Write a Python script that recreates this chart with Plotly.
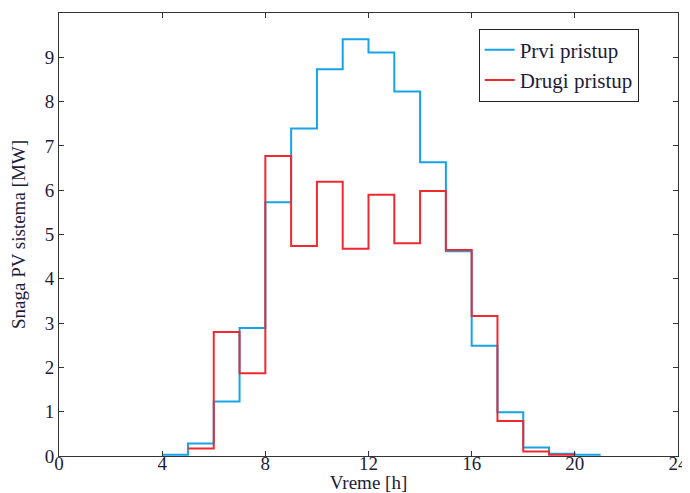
import plotly.graph_objects as go

# Hour at which each step starts
hours_prvi = [4, 5, 6, 7, 8, 9, 10, 11, 12, 13, 14, 15, 16, 17, 18, 19, 20]
prvi = [0.03, 0.28, 1.23, 2.89, 5.73, 7.39, 8.73, 9.41, 9.11, 8.23, 6.63, 4.62, 2.49, 0.99, 0.19, 0.05, 0.03]

hours_drugi = [5, 6, 7, 8, 9, 10, 11, 12, 13, 14, 15, 16, 17, 18, 19]
drugi = [0.17, 2.80, 1.87, 6.77, 4.74, 6.19, 4.68, 5.90, 4.80, 5.98, 4.65, 3.16, 0.79, 0.10, 0.03]

x_ticks = [0, 4, 8, 12, 16, 20, 24]
y_ticks = [0, 1, 2, 3, 4, 5, 6, 7, 8, 9]


def stairs(h, v):
    # close the final step one hour later
    return h + [h[-1] + 1], v + [v[-1]]


xp, yp = stairs(hours_prvi, prvi)
xd, yd = stairs(hours_drugi, drugi)

fig = go.Figure()
fig.add_trace(go.Scatter(x=xp, y=yp, mode="lines", line_shape="hv",
                         line=dict(color="#16a4e6", width=2), name="Prvi pristup"))
fig.add_trace(go.Scatter(x=xd, y=yd, mode="lines", line_shape="hv",
                         line=dict(color="#ee2a30", width=2), name="Drugi pristup"))

font_family = "Liberation Serif, Times New Roman, serif"
txt_color = "#1c1c3a"
axis_common = dict(showline=True, linecolor="#333333", linewidth=1, mirror="allticks",
                   ticks="inside", ticklen=5, tickcolor="#333333", showgrid=False,
                   zeroline=False, automargin=False,
                   tickfont=dict(family=font_family, size=19, color=txt_color))

fig.update_xaxes(range=[0, 24], tickvals=x_ticks, ticktext=[str(t) for t in x_ticks],
                 ticklabelstandoff=-10,
                 title=dict(text="Vreme [h]", font=dict(family=font_family, size=19, color=txt_color),
                            standoff=12),
                 **axis_common)
fig.update_yaxes(range=[0, 10], tickvals=y_ticks, ticktext=[str(t) for t in y_ticks],
                 title=dict(text="Snaga PV sistema [MW]", font=dict(family=font_family, size=19, color=txt_color),
                            standoff=14),
                 **axis_common)

# the page body adds an 8 px offset, so the figure is sized to fit the window
fig.update_layout(
    width=682, height=485,
    margin=dict(l=51, r=12, t=5, b=37),
    plot_bgcolor="white", paper_bgcolor="white",
    font=dict(family=font_family, size=19, color=txt_color),
    legend=dict(x=0.678, y=0.965, xanchor="left", yanchor="top",
                bgcolor="white", bordercolor="#222222", borderwidth=1,
                font=dict(family=font_family, size=21, color=txt_color),
                tracegroupgap=0),
    showlegend=True,
)

fig.write_html("out.html")
